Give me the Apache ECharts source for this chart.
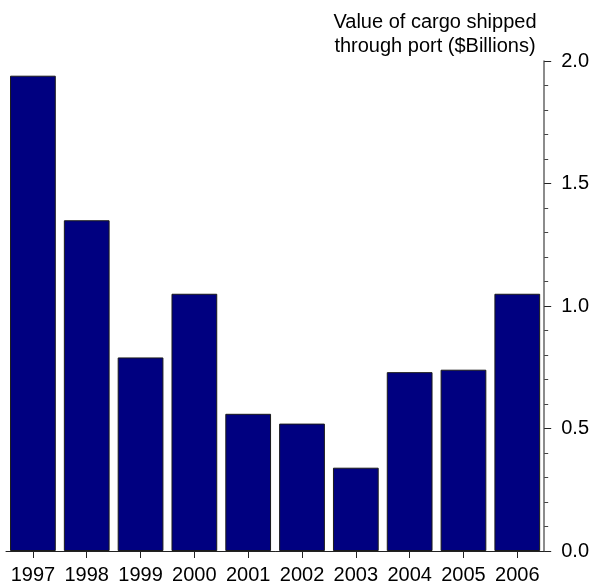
<!DOCTYPE html>
<html>
<head>
<meta charset="utf-8">
<script src="https://cdn.jsdelivr.net/npm/echarts@6/dist/echarts.min.js"></script>
<style>
  html, body { margin: 0; padding: 0; background: #fff; }
  #chart { width: 592px; height: 586px; }
</style>
</head>
<body>
<div id="chart"></div>
<script>
// Annual value of cargo shipped through the port
const years = ['1997', '1998', '1999', '2000', '2001', '2002', '2003', '2004', '2005', '2006'];
const cargoValue = [1.94, 1.35, 0.79, 1.05, 0.56, 0.52, 0.34, 0.73, 0.74, 1.05];
const axisTitle = 'Value of cargo shipped\nthrough port ($Billions)';

const font = '"Liberation Sans", Arial, sans-serif';
const fontSize = 20;
const chart = echarts.init(document.getElementById('chart'), null, { renderer: 'canvas' });

chart.setOption({
  animation: false,
  backgroundColor: '#ffffff',
  textStyle: { fontFamily: font },
  grid: { left: 6, right: 47, top: 61, bottom: 35, containLabel: false },
  graphic: [{
    type: 'text',
    left: 332,
    top: 10,
    style: {
      text: axisTitle,
      font: fontSize + 'px ' + font,
      fill: '#000',
      textAlign: 'center',
      lineHeight: 24,
      width: 206
    }
  }],
  xAxis: {
    type: 'category',
    data: years,
    axisLine: { show: true, lineStyle: { color: '#222', width: 1 } },
    axisTick: { show: true, alignWithLabel: true, length: 7, lineStyle: { color: '#222' } },
    axisLabel: { color: '#000', fontSize: fontSize, fontFamily: font, margin: 14, interval: 0 },
    splitLine: { show: false }
  },
  yAxis: {
    type: 'value',
    position: 'right',
    min: 0,
    max: 2,
    interval: 0.5,
    axisLine: { show: true, lineStyle: { color: '#666', width: 1.5 } },
    axisTick: { show: true, inside: false, length: 7, lineStyle: { color: '#222' } },
    minorTick: { show: true, splitNumber: 5, length: 4, lineStyle: { color: '#444' } },
    axisLabel: {
      color: '#000', fontSize: fontSize, fontFamily: font, margin: 17,
      formatter: v => v.toFixed(1)
    },
    splitLine: { show: false }
  },
  series: [{
    type: 'bar',
    data: cargoValue,
    barCategoryGap: '15%',
    itemStyle: { color: '#000080', borderColor: '#1a1a1a', borderWidth: 1 }
  }]
});
</script>
</body>
</html>
